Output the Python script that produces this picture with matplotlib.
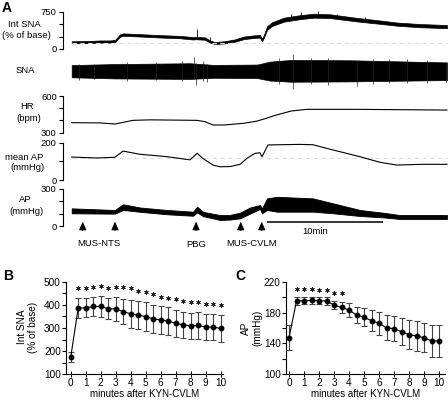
import matplotlib
matplotlib.use('Agg')
import matplotlib.pyplot as plt
import numpy as np
from matplotlib.ticker import MultipleLocator, FixedLocator

plt.rcParams['font.family'] = ['Liberation Sans', 'DejaVu Sans']
plt.rcParams['font.size'] = 6.8

W, H = 448, 401

# ---------------- Panel A data (time in minutes from start of record) ----------------
isna_t = [0, 1.58, 2.44, 3.30, 3.73, 4.16, 4.42, 5.89, 7.61, 9.34, 10.46, 10.72, 11.49, 11.92,
          12.35, 13.21, 14.08, 14.85, 15.80, 16.23, 16.41, 16.58, 16.84, 17.27, 18.30, 19.68,
          20.89, 22.27, 24.59, 26.57, 28.04, 30.03, 32.35]
isna_val = [135, 140, 150, 150, 160, 270, 290, 275, 255, 240, 215, 220, 210, 150,
            120, 135, 170, 225, 250, 255, 180, 260, 420, 500, 590, 640,
            670, 660, 590, 540, 500, 470, 450]
isna_half = [20, 22, 22, 22, 22, 24, 24, 24, 24, 24, 24, 24, 24, 22,
             20, 22, 24, 26, 26, 26, 26, 28, 36, 38, 40, 40,
             40, 38, 36, 34, 32, 32, 32]
isna_spike_t = [10.81, 11.9, 18.9, 19.8, 21.2, 22.9, 25.3]
isna_spike_v = [410, 250, 700, 745, 760, 705, 650]
isna_base = 115

sna_t = [0, 3.73, 10.2, 12.2, 16.0, 17.1, 18.9, 24.0, 32.35]
sna_up = [0.39, 0.45, 0.50, 0.40, 0.42, 0.60, 0.70, 0.68, 0.55]
sna_lo = [-0.35, -0.42, -0.45, -0.38, -0.40, -0.55, -0.62, -0.60, -0.52]
sna_spike_t = [0.6, 1.9, 4.8, 7.3, 9.5, 10.54, 10.72, 11.3, 11.66, 17.9, 19.08, 20.6, 22.1,
               24.59, 26.0, 27.37, 28.92, 30.6, 32.3]
sna_spike_hi = [0.45, 0.48, 0.55, 0.55, 0.62, 0.86, 0.50, 0.62, 0.45, 0.80, 1.04, 0.82, 0.80,
                0.70, 0.76, 0.74, 0.74, 0.70, 0.55]
sna_spike_lo = [-0.50, -0.48, -0.55, -0.52, -0.60, -0.45, -0.82, -0.55, -0.62, -0.75, -1.08, -0.75,
                -0.80, -0.88, -0.78, -0.68, -0.70, -0.68, -0.62]

hr_t = [0, 2.44, 3.73, 5.28, 6.75, 10.81, 11.49, 12.18, 13.13, 14.85, 15.97, 16.58, 17.44,
        18.91, 20.28, 24.59, 32.35]
hr_val = [382, 380, 371, 401, 405, 401, 390, 363, 363, 377, 395, 412, 439, 477, 491, 491, 485]

map_t = [0, 2.16, 3.73, 4.42, 5.89, 8.22, 10.2, 10.81, 11.32, 12.18, 12.78, 13.65, 14.51,
         15.11, 15.80, 16.23, 16.41, 16.92, 19.68, 20.80, 22.53, 24.85, 26.57, 28.04, 30.03, 32.35]
map_val = [123, 118, 122, 155, 138, 125, 108, 143, 115, 80, 71, 72, 84,
           116, 143, 146, 125, 188, 191, 189, 161, 125, 95, 80, 84, 84]
map_base = 118

ap_t = [0, 3.73, 4.42, 5.89, 8.22, 10.46, 10.81, 11.32, 12.78, 13.65, 14.51, 15.37, 16.23,
        16.41, 16.84, 17.70, 20.80, 22.53, 24.85, 26.83, 28.29, 32.35]
ap_lo = [103, 100, 130, 115, 95, 83, 110, 80, 49, 52, 62, 100, 138,
         103, 130, 116, 116, 103, 81, 70, 57, 57]
ap_hi = [143, 130, 176, 150, 130, 116, 157, 115, 89, 90, 108, 150, 170,
         143, 224, 237, 224, 184, 130, 108, 89, 89]

event_t = [0.95, 3.73, 10.72, 14.57, 16.38]
event_labels = ['MUS-NTS', 'PBG', 'MUS-CVLM']
event_label_t = [2.34, 10.72, 15.48]
scale_bar = [16.8, 26.8]

# ---------------- Panels B, C data ----------------
minutes = [0, 0.5, 1, 1.5, 2, 2.5, 3, 3.5, 4, 4.5, 5, 5.5, 6, 6.5, 7, 7.5, 8, 8.5, 9, 9.5, 10]
sna_mean = [174, 386, 387, 393, 393, 383, 383, 371, 361, 356, 349, 340, 334, 330, 320, 314,
            309, 311, 304, 304, 298]
sna_err = [21, 43, 41, 43, 46, 46, 51, 55, 61, 62, 63, 61, 61, 61, 59, 57, 56, 57, 55, 57, 58]
sna_star = [472, 472, 479, 482, 474, 479, 476, 472, 461, 454, 446, 436, 429, 424, 418, 412,
            412, 404, 404, 400]
ap_mean = [147.5, 195, 195.4, 195.8, 195.4, 195, 189.8, 186.8, 183.3, 176.9, 173.9, 169.5,
           166.1, 160.4, 159.1, 155.2, 151.3, 149.7, 147.5, 143.2, 143.2]
ap_err = [16, 5.4, 4.5, 4.5, 4.5, 5, 5.2, 7, 8.6, 10.8, 11.9, 14, 14.7, 16.2, 16.2, 17.3,
          18.8, 20, 19.2, 20.5, 21]
ap_star = [210.5, 210.5, 210.5, 209.2, 209.2, 205.8, 205]

fig = plt.figure(figsize=(W / 100, H / 100), dpi=100)


def px_axes(l, t, r, b):
    ax = fig.add_axes([l / W, 1 - b / H, (r - l) / W, (b - t) / H])
    ax.patch.set_alpha(0)
    return ax


def trace_axes(t, b, ylim, ticks, labels):
    ax = px_axes(63, t, 448, b)
    ax.set_xlim(-0.75, 32.44)
    ax.set_ylim(*ylim)
    for s in ['top', 'right', 'bottom']:
        ax.spines[s].set_visible(False)
    ax.spines['left'].set_linewidth(0.8)
    ax.set_xticks([])
    ax.set_yticks(ticks)
    ax.set_yticklabels(labels)
    ax.tick_params(axis='y', direction='out', length=3, width=0.8, pad=1.5, labelsize=6.8)
    return ax


def fig_text(x, y, s, **kw):
    fig.text(x / W, 1 - y / H, s, ha='center', va='center', **kw)


# Int SNA
ax1 = trace_axes(11.7, 49, (0, 750), [0, 250, 500, 750], ['0', '', '', '750'])
ax1.plot([0, 32.35], [isna_base, isna_base], color='#dddddd', lw=0.8, dashes=(4, 3))
v = np.array(isna_val); h = np.array(isna_half)
ax1.fill_between(isna_t, v - h, v + h, color='black', lw=0.5, clip_on=False)
ax1.vlines(isna_spike_t, np.interp(isna_spike_t, isna_t, isna_val), isna_spike_v,
           color='black', lw=0.6, clip_on=False)

# SNA
ax2 = px_axes(63, 55, 448, 88)
ax2.set_xlim(-0.75, 32.44)
ax2.set_ylim(-1, 1)
ax2.axis('off')
ax2.fill_between(sna_t, sna_lo, sna_up, color='black', lw=0.5, clip_on=False)
ax2.vlines(sna_spike_t, sna_spike_lo, sna_spike_hi, color='#222222', lw=0.5, clip_on=False)

# HR
ax3 = trace_axes(96, 132.7, (300, 600), [300, 400, 500, 600], ['300', '', '', '600'])
ax3.plot(hr_t, hr_val, color='black', lw=0.8, clip_on=False)

# mean AP
ax4 = trace_axes(142.7, 180, (0, 200), [0, 100, 200], ['0', '', '200'])
ax4.plot([0, 32.35], [map_base, map_base], color='#dddddd', lw=0.8, dashes=(4, 3))
ax4.plot(map_t, map_val, color='black', lw=0.8, clip_on=False)

# AP
ax5 = trace_axes(189, 226, (0, 300), [0, 100, 200, 300], ['0', '', '', '300'])
ax5.fill_between(ap_t, ap_lo, ap_hi, color='black', lw=0.6, clip_on=False)
for et in event_t:
    ax5.annotate('', xy=(et, 35), xytext=(et, -37), annotation_clip=False,
                 arrowprops=dict(arrowstyle='-|>,head_length=0.5,head_width=0.22',
                                 mutation_scale=10, color='black', lw=0.7,
                                 shrinkA=0, shrinkB=0))
for lt, lab, ly in zip(event_label_t, event_labels, [-138, -154, -138]):
    ax5.text(lt, ly, lab, ha='center', va='center', fontsize=6.8, clip_on=False)
ax5.plot(scale_bar, [35, 35], color='black', lw=1.1, clip_on=False, solid_capstyle='butt')
ax5.text(21.0, -46, '10min', ha='center', va='center', fontsize=6.8, clip_on=False)

fig_text(24.4, 24.2, 'Int SNA')
fig_text(26, 35.7, '(% of base)')
fig_text(25.5, 70.3, 'SNA')
fig_text(27, 106.7, 'HR')
fig_text(28.7, 118.7, '(bpm)')
fig_text(24, 157.7, 'mean AP')
fig_text(27, 168, '(mmHg)')
fig_text(25, 200, 'AP')
fig_text(26.7, 211.3, '(mmHg)')

fig.text(1.5 / W, 1 - 11.7 / H, 'A', fontsize=10, fontweight='bold', ha='left', va='baseline')
fig.text(3.3 / W, 1 - 280 / H, 'B', fontsize=10, fontweight='bold', ha='left', va='baseline')
fig.text(235.5 / W, 1 - 280 / H, 'C', fontsize=10, fontweight='bold', ha='left', va='baseline')


def summary_axes(l, r, xlim, ylim, ymaj, ymin):
    ax = px_axes(l, 281.7, r, 374.3)
    ax.set_xlim(*xlim)
    ax.set_ylim(*ylim)
    for s in ['top', 'right']:
        ax.spines[s].set_visible(False)
    for s in ['left', 'bottom']:
        ax.spines[s].set_linewidth(0.8)
    ax.xaxis.set_major_locator(MultipleLocator(1))
    ax.yaxis.set_major_locator(FixedLocator(ymaj))
    ax.yaxis.set_minor_locator(FixedLocator(ymin))
    ax.tick_params(axis='x', direction='inout', length=5, width=0.8, pad=0.5, labelsize=7.2)
    ax.tick_params(axis='y', which='major', direction='out', length=3, width=0.8, pad=0.8,
                   labelsize=7.2)
    ax.tick_params(axis='y', which='minor', direction='out', length=3, width=0.8)
    ax.set_xlabel('minutes after KYN-CVLM', fontsize=7, labelpad=0.5)
    return ax


axB = summary_axes(66.2, 222.7, (-0.3, 10.13), (100, 500),
                   [100, 200, 300, 400, 500], [150, 250, 350, 450])
axB.errorbar(minutes, sna_mean, yerr=sna_err, color='black', ecolor='#444444', elinewidth=0.8,
             capsize=2.0, capthick=0.8, lw=0.8, marker='o', ms=3.2, clip_on=False, zorder=3)
axB.plot(minutes[1:], sna_star, ls='none', marker=(6, 2, 0), ms=3.2, mew=0.55, color='#222222',
         clip_on=False)
fig.text(27.5 / W, 1 - 327 / H, 'Int SNA\n(% of base)', rotation=90, ha='center', va='center',
         multialignment='center', fontsize=7.2, linespacing=1.15)

axC = summary_axes(286, 445, (-0.2, 10.4), (100, 220), [100, 140, 180, 220], [120, 160, 200])
axC.errorbar(minutes, ap_mean, yerr=ap_err, color='black', ecolor='#444444', elinewidth=0.8,
             capsize=2.0, capthick=0.8, lw=0.8, marker='o', ms=3.2, clip_on=False, zorder=3)
axC.plot(minutes[1:len(ap_star) + 1], ap_star, ls='none', marker=(6, 2, 0), ms=3.2, mew=0.55,
         color='#222222', clip_on=False)
fig.text(252 / W, 1 - 328 / H, 'AP\n(mmHg)', rotation=90, ha='center', va='center',
         multialignment='center', fontsize=7.2, linespacing=1.15)

fig.savefig('out.png', dpi=100)
